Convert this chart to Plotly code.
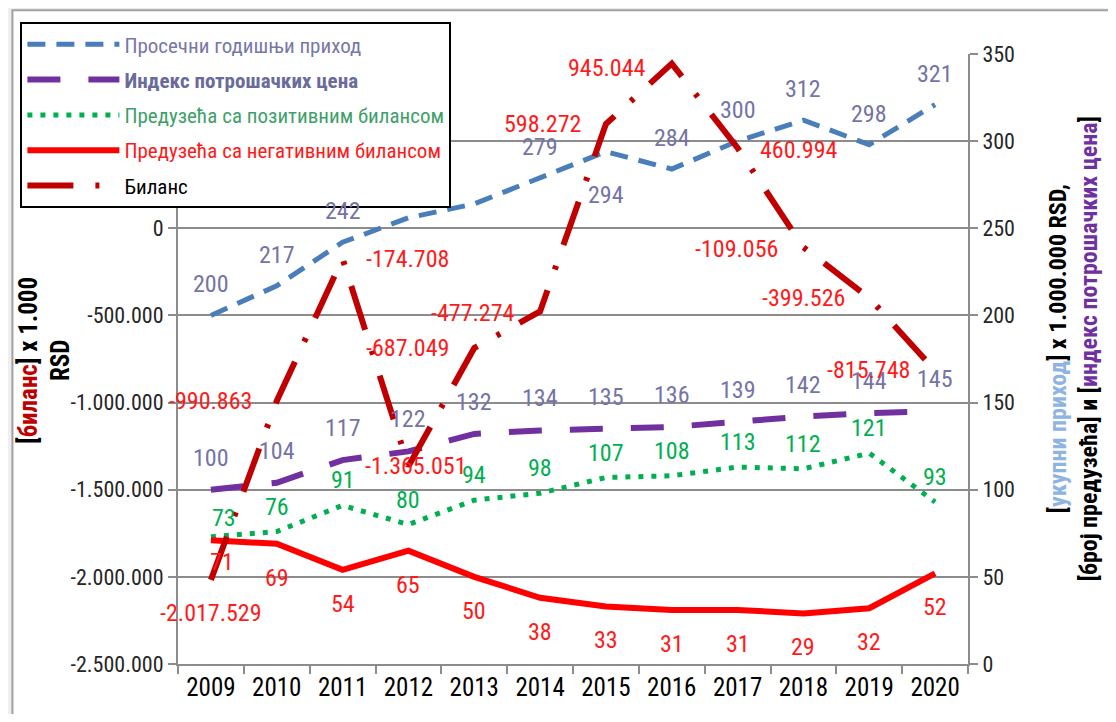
import plotly.graph_objects as go

# ---------------- data ----------------
years = ["2009", "2010", "2011", "2012", "2013", "2014", "2015", "2016", "2017", "2018", "2019", "2020"]
income = [200, 217, 242, 256, 264, 279, 294, 284, 300, 312, 298, 321]
cpi = [100, 104, 117, 122, 132, 134, 135, 136, 139, 142, 144, 145]
positive = [73, 76, 91, 80, 94, 98, 107, 108, 113, 112, 121, 93]
negative = [71, 69, 54, 65, 50, 38, 33, 31, 31, 29, 32, 52]
balance = [-2017529, -990863, -174708, -1365051, -687049, -477274,
           598272, 945044, 460994, -109056, -399526, -815748]

left_tickvals = [-2500000, -2000000, -1500000, -1000000, -500000, 0]
left_ticktext = ["-2.500.000", "-2.000.000", "-1.500.000", "-1.000.000", "-500.000", "0"]
right_tickvals = [0, 50, 100, 150, 200, 250, 300, 350]
right_ticktext = ["0", "50", "100", "150", "200", "250", "300", "350"]

names = [
    "<span style='color:#7878a8'>Просечни годишњи приход</span>",
    "<b><span style='color:#6b6b9b'>Индекс потрошачких цена</span></b>",
    "<span style='color:#3f9f6a'>Предузећа са позитивним билансом</span>",
    "<span style='color:#ff1a1a'>Предузећа са негативним билансом</span>",
    "<span style='color:#000000'>Биланс</span>",
]

# ---------------- style ----------------
FONT = "Liberation Sans Narrow, Arial Narrow, Roboto Condensed, DejaVu Sans Condensed, Liberation Sans, Arial, sans-serif"
GRID = "#8c8c8c"
LBL_PURPLE = "#7474a6"
LBL_GREEN = "#00b050"
LBL_RED = "#ff1a1a"

def fmt(v):
    return f"{v:,}".replace(",", ".")

fig = go.Figure()

fig.add_trace(go.Scatter(x=years, y=income, name=names[0], yaxis="y", mode="lines",
                         legendgroup="a",
                         line=dict(color="#4a7ebb", width=5, dash="18px,11px")))
fig.add_trace(go.Scatter(x=years, y=cpi, name=names[1], yaxis="y", mode="lines",
                         legendgroup="b",
                         line=dict(color="#7030a0", width=6, dash="33px,28px")))
fig.add_trace(go.Scatter(x=years, y=positive, name=names[2], yaxis="y", mode="lines",
                         legendgroup="c",
                         line=dict(color="#00b050", width=5, dash="5px,8px")))
fig.add_trace(go.Scatter(x=years, y=negative, name=names[3], yaxis="y", mode="lines",
                         legendgroup="d",
                         line=dict(color="#ff0000", width=6)))
fig.add_trace(go.Scatter(x=years, y=balance, name=names[4], yaxis="y2", mode="lines",
                         legendgroup="e",
                         line=dict(color="#c00000", width=6, dash="46px,22px,4px,22px")))

ann = []
lab_font = dict(family=FONT, size=24)

# income labels (2012, 2013 hidden behind the legend in the original)
income_hidden = {"2012", "2013"}
income_yshift = {"2015": -43}
for i, (x, v) in enumerate(zip(years, income)):
    if x in income_hidden:
        continue
    ann.append(dict(x=i, y=v, xref="x", yref="y", text=str(v), showarrow=False,
                    xanchor="center", yanchor="middle",
                    yshift=income_yshift.get(x, 31), font=dict(lab_font, color=LBL_PURPLE)))
for i, v in enumerate(cpi):
    ann.append(dict(x=i, y=v, xref="x", yref="y", text=str(v), showarrow=False,
                    xanchor="center", yanchor="middle",
                    yshift=32, font=dict(lab_font, color=LBL_PURPLE)))
pos_shift = {"2009": (13, 19)}
for i, (x, v) in enumerate(zip(years, positive)):
    xs, ys = pos_shift.get(x, (0, 25))
    ann.append(dict(x=i, y=v, xref="x", yref="y", text=str(v), showarrow=False,
                    xanchor="center", yanchor="middle",
                    xshift=xs, yshift=ys, font=dict(lab_font, color=LBL_GREEN)))
neg_shift = {"2009": (11, -22)}
for i, (x, v) in enumerate(zip(years, negative)):
    xs, ys = neg_shift.get(x, (0, -34))
    ann.append(dict(x=i, y=v, xref="x", yref="y", text=str(v), showarrow=False,
                    xanchor="center", yanchor="middle",
                    xshift=xs, yshift=ys, font=dict(lab_font, color=LBL_RED)))

bal_pos = [("center", 0, -33), ("right", -23, 0), ("left", 21, 0), ("center", 8, 0),
           ("right", -23, 0), ("right", -23, -2), ("right", -23, 0), ("right", -24, -4),
           ("left", 20, -2), ("right", -23, -2), ("right", -22, 0), ("right", -23, 0)]
for i, (v, (xa, xs, ys)) in enumerate(zip(balance, bal_pos)):
    ann.append(dict(x=i, y=v, xref="x", yref="y2", text=fmt(v), showarrow=False,
                    xanchor=xa, yanchor="middle", xshift=xs, yshift=ys,
                    font=dict(lab_font, color=LBL_RED)))

# ---------------- geometry (screen px -> figure) ----------------
OFF = 8                       # page body margin
W, H = 1100, 706
SL, SR, ST, SB = 176, 968, 54, 667   # plot area in screen px
L, T = SL - OFF, ST - OFF
R = W - (SR - OFF)
B = H - (SB - OFF)
pw, ph = W - L - R, H - T - B

def px_x(p):
    return (p - OFF - L) / pw

def px_y(p):
    return (H - B - (p - OFF)) / ph

# axis titles
ann.append(dict(xref="paper", yref="paper", x=px_x(43), y=px_y(362), textangle=-90, showarrow=False,
                xanchor="center", yanchor="middle",
                text="<b>[<span style='color:#c00000'>биланс</span>] x 1.000<br>RSD</b>",
                font=dict(family=FONT, size=25, color="#000000")))
ann.append(dict(xref="paper", yref="paper", x=px_x(1074), y=px_y(350), textangle=-90, showarrow=False,
                xanchor="center", yanchor="middle",
                text="<b>[<span style='color:#8db4e2'>укупни приход</span>] x 1.000.000 RSD,<br>"
                     "[број предузећа] и [<span style='color:#7030a0'>индекс потрошачких цена</span>]</b>",
                font=dict(family=FONT, size=24, color="#000000")))

fig.update_layout(
    width=W, height=H, autosize=False,
    margin=dict(l=L, r=R, t=T, b=B, pad=0),
    paper_bgcolor="#efeff1", plot_bgcolor="#ffffff",
    font=dict(family=FONT, size=22, color="#262626"),
    showlegend=True,
    legend=dict(x=px_x(18), y=px_y(22), xanchor="left", yanchor="top",
                bgcolor="#ffffff", bordercolor="#000000", borderwidth=2,
                font=dict(family=FONT, size=21), traceorder="grouped",
                tracegroupgap=5, itemwidth=92),
    xaxis=dict(type="category", range=[-0.5, 11.5], tickson="boundaries",
               ticks="outside", ticklen=8, tickwidth=2, tickcolor=GRID,
               showline=True, linecolor=GRID, linewidth=2, showgrid=False,
               tickfont=dict(family=FONT, size=25, color="#000000")),
    yaxis=dict(side="right", range=[0, 350], tickvals=right_tickvals, ticktext=right_ticktext,
               showgrid=True, gridcolor=GRID, gridwidth=2, zeroline=False,
               showline=True, linecolor=GRID, linewidth=2,
               ticks="outside", ticklen=8, tickwidth=2, tickcolor=GRID,
               tickfont=dict(family=FONT, size=22, color="#262626")),
    yaxis2=dict(side="left", overlaying="y", range=[-2500000, 1000000],
                tickvals=left_tickvals, ticktext=left_ticktext,
                showgrid=False, zeroline=False,
                showline=True, linecolor=GRID, linewidth=2,
                ticks="outside", ticklen=8, tickwidth=2, tickcolor=GRID,
                tickfont=dict(family=FONT, size=22, color="#262626")),
    annotations=ann,
    shapes=[dict(type="rect", xref="paper", yref="paper", layer="below",
                 x0=px_x(10), x1=px_x(1200), y0=px_y(900), y1=px_y(10),
                 fillcolor="#ffffff", line=dict(color="#a0a0a0", width=2))],
)

fig.write_html("out.html")
